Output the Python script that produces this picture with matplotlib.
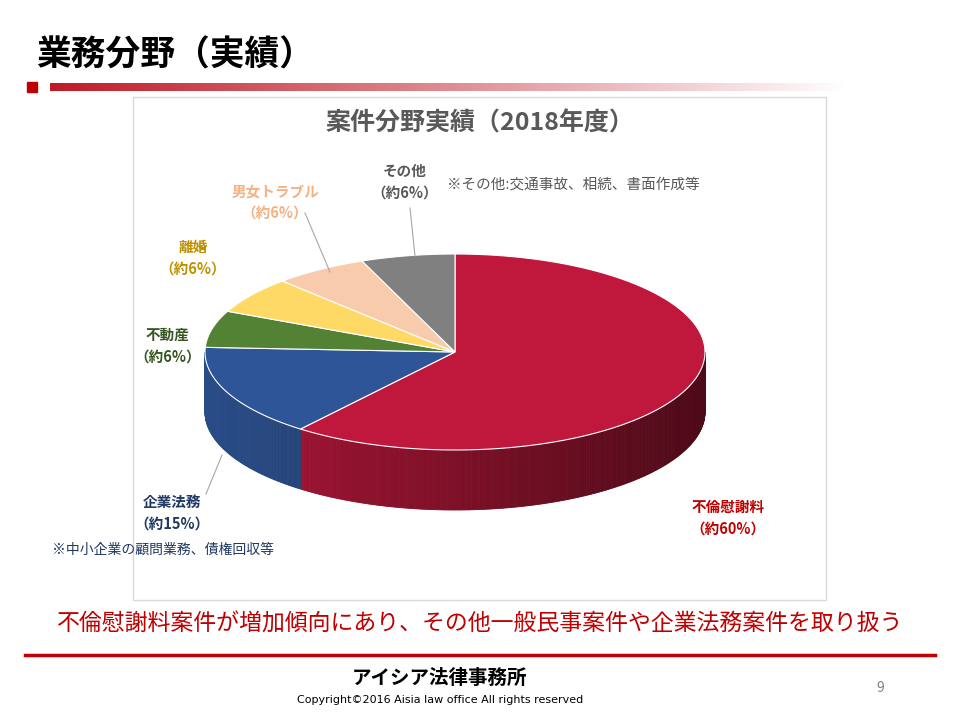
import numpy as np
import matplotlib
matplotlib.use("Agg")
from matplotlib import pyplot as plt
from matplotlib.patches import Polygon, Rectangle

plt.rcParams["font.family"] = "Noto Sans CJK JP"

categories = ["不倫慰謝料", "企業法務", "不動産", "離婚", "男女トラブル", "その他"]
shares = [60, 15, 6, 6, 6, 6]
share_labels = ["（約60%）", "（約15%）", "（約6%）", "（約6%）", "（約6%）", "（約6%）"]
colors = ["#C0183C", "#2E5597", "#548235", "#FFD966", "#F8CBAD", "#808080"]
label_colors = ["#C00000", "#1F3864", "#375623", "#BF9000", "#F4B183", "#595959"]

fig = plt.figure(figsize=(9.6, 7.2), dpi=100)
ax = fig.add_axes([0, 0, 1, 1])
ax.set_xlim(0, 960)
ax.set_ylim(720, 0)
ax.axis("off")

# slide header
ax.text(36, 55, "業務分野（実績）", fontsize=25, fontweight="bold", va="center")
ax.add_patch(Rectangle((27, 82), 10, 10, color="#C00000"))
grad = np.linspace(1, 0, 200)
for i, g in enumerate(grad):
    ax.add_patch(Rectangle((50 + i * 4, 83), 4.2, 8, color=(0.75, 0.1, 0.15, g), lw=0))

# chart frame
ax.add_patch(Rectangle((133, 97), 693, 503, fill=False, ec="#D9D9D9", lw=1))
ax.text(480, 123, "案件分野実績（2018年度）", fontsize=18, fontweight="bold",
        color="#595959", ha="center", va="center")

# 3D pie
cx, cy, rx, ry, depth = 455, 352, 250, 98, 60


def shade(c, f):
    rgb = np.array(matplotlib.colors.to_rgb(c))
    return tuple(np.clip(rgb * f, 0, 1))


angles = 90 - np.cumsum([0] + shares) / sum(shares) * 360
for k in range(len(shares)):
    a0, a1 = angles[k], angles[k + 1]
    lo, hi = max(a1, -180), min(a0, 0)
    if lo < hi:
        ts = np.linspace(hi, lo, int((hi - lo) * 2) + 2)
        for t0, t1 in zip(ts[:-1], ts[1:]):
            tt = np.radians([t0, t1])
            xs = cx + rx * np.cos(tt)
            ys = cy - ry * np.sin(tt)
            f = 0.9 - 0.5 * (np.cos(np.radians(t0)) + 1) / 2
            pts = [(xs[0], ys[0]), (xs[1], ys[1]), (xs[1], ys[1] + depth), (xs[0], ys[0] + depth)]
            ax.add_patch(Polygon(pts, color=shade(colors[k], f), lw=0.6))

for k in range(len(shares)):
    a0, a1 = angles[k], angles[k + 1]
    t = np.radians(np.linspace(a0, a1, 100))
    pts = [(cx, cy)] + list(zip(cx + rx * np.cos(t), cy - ry * np.sin(t)))
    ax.add_patch(Polygon(pts, fc=colors[k], ec="white", lw=0.8))

# labels
label_pos = [(728, 518), (172, 513), (168, 346), (193, 258), (275, 202), (405, 182)]
for (x, y), name, pct, c in zip(label_pos, categories, share_labels, label_colors):
    ax.text(x, y - 11, name, fontsize=10.5, fontweight="bold", color=c, ha="center", va="center")
    ax.text(x, y + 11, pct, fontsize=10.5, fontweight="bold", color=c, ha="center", va="center")

ax.plot([305, 330], [213, 272], color="#A6A6A6", lw=0.8)
ax.plot([410, 415], [208, 256], color="#A6A6A6", lw=0.8)
ax.plot([206, 222], [494, 455], color="#A6A6A6", lw=0.8)

ax.text(447, 185, "※その他:交通事故、相続、書面作成等", fontsize=10.5, color="#595959", va="center")
ax.text(52, 550, "※中小企業の顧問業務、債権回収等", fontsize=10, color="#1F3864", va="center")

# footer
ax.text(480, 624, "不倫慰謝料案件が増加傾向にあり、その他一般民事案件や企業法務案件を取り扱う",
        fontsize=16.5, color="#C00000", ha="center", va="center")
ax.plot([25, 935], [655, 655], color="#C00000", lw=2.5)
ax.text(440, 678, "アイシア法律事務所", fontsize=14, fontweight="bold", ha="center", va="center")
ax.text(440, 700, "Copyright©2016 Aisia law office All rights reserved", fontsize=8,
        ha="center", va="center", family="DejaVu Sans")
ax.text(880, 688, "9", fontsize=10, color="#808080", ha="center", va="center")

fig.savefig("out.png", dpi=100)
